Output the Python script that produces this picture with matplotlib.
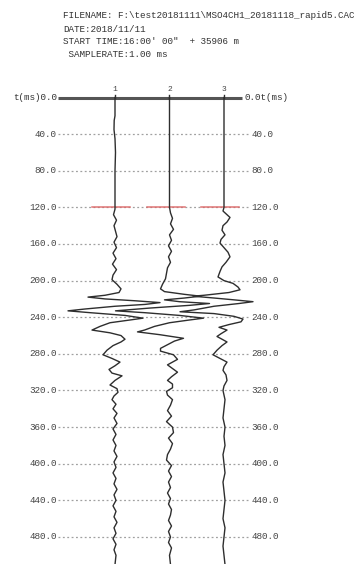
import numpy as np
import matplotlib
matplotlib.use("Agg")
import matplotlib.pyplot as plt

# ---------------- data ----------------
header_lines = [
    "FILENAME: F:\\test20181111\\MSO4CH1_20181118_rapid5.CAC",
    "DATE:2018/11/11",
    "START TIME:16:00' 00\"  + 35906 m",
    " SAMPLERATE:1.00 ms",
]
trace_labels = ["1", "2", "3"]
time_ticks = [0, 40, 80, 120, 160, 200, 240, 280, 320, 360, 400, 440, 480]
pick_times = [120, 120, 120]

t1 = [0, 20, 25, 35, 45, 60, 80, 100, 117, 122, 128, 134, 140, 146, 152, 158, 164, 170, 176, 182, 188,
      194, 199, 204, 209, 213, 216, 218, 220, 222, 224, 226, 228, 231, 233, 235, 238, 241, 243, 246, 250,
      254, 257, 260, 264, 267, 271, 276, 281, 285, 289, 293, 297, 301, 304, 309, 314, 318, 322, 326, 330,
      335, 340, 345, 350, 356, 362, 368, 374, 380, 386, 392, 398, 404, 410, 416, 422, 428, 434, 440, 446,
      452, 458, 464, 470, 476, 482, 488, 494, 500, 510]
a1 = [0, 0, -0.8, -1, 0, 0.5, 0, 0, 0, 0, -1.5, 1.5, -1, 0.5, 2, -1, 1.5, -2, 1, -2.5, 1.5,
      -2, -3, 2, 6, 4, -10, -27, -10, 20, 45, 30, 0, -30, -47, -25, 10, 28, 15, -5, -15,
      -23, -5, 6, 10, 6, -2, -8, -12, -3, 5, 0, -6, -3, 7, 0, -5, 2, 3, -1, -3,
      1, -2, 2, -1, 2, -2, 1, -2, 1, -1, 2, -1, 1, -2, 1, -1, 2, -1, 1, -2,
      1, -1, 2, -1, 1, -2, 1, -1, 1, 0]

t2 = [0, 117, 120, 126, 132, 138, 144, 150, 156, 162, 168, 174, 180, 186, 192, 198, 204, 209, 212, 215,
      217, 219, 221, 223, 225, 227, 230, 233, 235, 238, 241, 243, 246, 250, 254, 256, 259, 263, 266, 270,
      274, 277, 281, 286, 292, 296, 300, 305, 309, 313, 317, 321, 325, 330, 336, 342, 348, 354, 360, 366,
      372, 378, 384, 390, 396, 402, 408, 414, 420, 426, 432, 438, 444, 450, 456, 462, 468, 474, 480, 486,
      492, 500, 510]
a2 = [0, 0, 0, 1, 3, 1, 4, 0, 2, -1, 2, -1, 1, -2, -3, -4, -7, -9, -5, 15,
      31, 15, -5, 10, 40, 20, -20, -54, -25, 10, 34, 20, 0, -15, -25, -32, -10, 14, 5, -2,
      -9, -9, 4, 8, -2, 3, 8, 2, -2, 3, 3, -3, -2, 3, 1, -2, 2, -3, 3, 4,
      -1, 3, 1, -2, -3, 2, -1, 2, -1, 1, -2, 1, -1, 2, 1, -1, 2, -1, 1, -1,
      2, 0, 1]

t3 = [0, 117, 120, 124, 128, 131, 136, 140, 145, 150, 155, 159, 164, 169, 174, 180, 185, 190, 196, 200,
      203, 207, 210, 213, 216, 217, 219, 221, 223, 225, 228, 232, 234, 236, 239, 242, 245, 248, 251, 254,
      258, 261, 264, 267, 271, 276, 281, 285, 289, 294, 298, 303, 309, 315, 320, 330, 340, 350, 360, 370,
      380, 390, 400, 410, 420, 430, 440, 450, 460, 470, 480, 490, 500, 510]
a3 = [0, 0, 0, -1, 3, 6, 3, -1, -2, 1, -3, -4, 0, 4, 6, 2, -2, -4, -6, 0,
      9, 14, 16, 5, -20, -31, -10, 10, 29, 15, -10, -30, -44, -10, 10, 19, 17, 5, -5, 3,
      -3, -7, -2, 3, -2, -7, -11, -4, 3, 0, -1, 2, 3, 0, -1, 1, 0, -1, 1, 0,
      1, -1, 0, 1, -1, 0, 1, 0, -1, 1, 0, -1, 0, 1]

trace_times = [t1, t2, t3]
trace_amps = [a1, a2, a3]

# ---------------- figure ----------------
W, H = 354, 564
fig = plt.figure(figsize=(W / 100, H / 100), dpi=100)
fig.patch.set_facecolor("white")

px_per_unit = 54.5     # horizontal pixels between traces
gain = 1.0 / px_per_unit
t_top_px = 97.5
px_per_ms = 0.9156
ax_left_px, ax_right_px = 58, 252
ax_bottom_t = (H - t_top_px) / px_per_ms

ax = fig.add_axes([ax_left_px / W, 0, (ax_right_px - ax_left_px) / W, (H - t_top_px) / H])
ax.set_xlim(1 - (115 - ax_left_px) / px_per_unit, 1 + (ax_right_px - 115) / px_per_unit)
ax.set_ylim(ax_bottom_t, 0)
ax.axis("off")

mono = ["Liberation Mono", "DejaVu Sans Mono"]
fs = 6.7

# grid lines and labels
for tt in time_ticks:
    if tt == 0:
        ax.plot([-0.046, 3.33], [0, 0], color="#555555", lw=2.2, solid_capstyle="butt",
                clip_on=False, zorder=3)
        ax.text(-0.07, 0, "t(ms)%.1f" % tt, ha="right", va="center", fontsize=fs,
                family=mono, color="#333333", clip_on=False)
        ax.text(3.37, 0, "%.1ft(ms)" % tt, ha="left", va="center", fontsize=fs,
                family=mono, color="#333333", clip_on=False)
    else:
        ax.plot([-0.046, 3.48], [tt, tt], color="#a0a0a0", lw=0.9,
                linestyle=(0, (1.5, 2.0)), zorder=1)
        ax.text(-0.07, tt, "%.1f" % tt, ha="right", va="center", fontsize=fs,
                family=mono, color="#444444", clip_on=False)
        ax.text(3.50, tt, "%.1f" % tt, ha="left", va="center", fontsize=fs,
                family=mono, color="#444444", clip_on=False)

# pick lines (red)
for i, pt in enumerate(pick_times):
    x0 = i + 1
    ax.plot([x0 - 0.42, x0 + 0.28], [pt, pt], color="#dd6666", lw=1.1, zorder=2, alpha=0.9)

# traces
for i, (tt, aa) in enumerate(zip(trace_times, trace_amps)):
    x0 = i + 1
    x = x0 + np.asarray(aa, dtype=float) * gain
    ax.plot(x, tt, color="#2e2e2e", lw=1.0, zorder=4, clip_on=False)
    ax.plot([x0, x0], [0, -3], color="#2e2e2e", lw=1.0, clip_on=False, zorder=4)
    ax.text(x0, -9, trace_labels[i], ha="center", va="center", fontsize=5.8,
            family=mono, color="#444444", clip_on=False)

# header
ys = [15, 29, 42, 55]
for line, y in zip(header_lines, ys):
    fig.text(63 / W, 1 - y / H, line, ha="left", va="center", fontsize=fs,
             family=mono, color="#333333")

fig.savefig("out.png", dpi=100, facecolor="white")
